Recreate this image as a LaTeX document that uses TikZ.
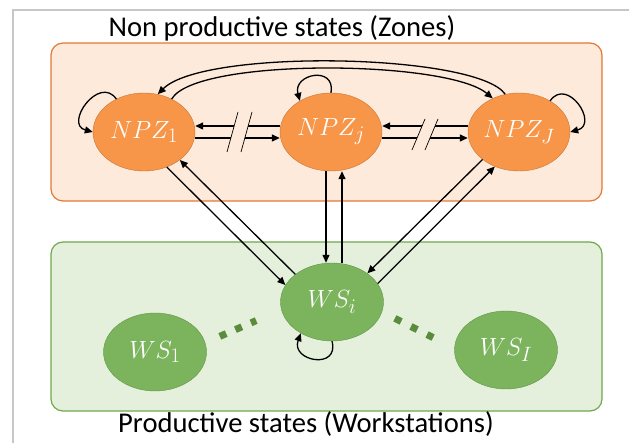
\documentclass[tikz,border=0pt]{standalone}
\usepackage{fontspec}
\setmainfont{Carlito}
\usetikzlibrary{shapes.geometric,arrows.meta}

\definecolor{npzfill}{RGB}{247,150,72}
\definecolor{npzline}{RGB}{200,115,55}
\definecolor{npzbg}{RGB}{253,234,218}
\definecolor{npzframe}{RGB}{228,120,50}
\definecolor{wsfill}{RGB}{124,180,94}
\definecolor{wsline}{RGB}{96,150,70}
\definecolor{wsbg}{RGB}{229,240,220}
\definecolor{wsframe}{RGB}{112,168,75}
\definecolor{wsdots}{RGB}{90,140,60}

\tikzset{
  npz/.style={ellipse, draw=npzline, fill=npzfill, minimum width=102pt, minimum height=78pt, inner sep=0pt, text=white, font=\Huge},
  ws/.style={ellipse, draw=wsline, fill=wsfill, minimum width=103pt, minimum height=78pt, inner sep=0pt, text=white, font=\Huge},
  trans/.style={-{Triangle[length=8pt,width=7pt]}, line width=1.3pt},
  cut/.style={line width=0.7pt}
}

\begin{document}
\begin{tikzpicture}[x=1pt,y=1pt]
  \useasboundingbox (0,0) rectangle (629,443);
  \draw[black!22, line width=1.5pt] (13,0) -- (13,433) -- (629,433);

  \draw[npzframe, fill=npzbg, line width=1.2pt, rounded corners=12pt] (51,242) rectangle (602,400);
  \draw[wsframe, fill=wsbg, line width=1.2pt, rounded corners=12pt] (51,32) rectangle (602,201);

  \node (ttop) at (282,406) [anchor=base, font=\fontsize{28.6}{33}\selectfont]{Non productive states (Zones)};
  \node (tbot) at (306,10) [anchor=base, font=\fontsize{28.6}{33}\selectfont]{Productive states (Workstations)};

  \node (npz1) at (144,311) [npz]{$NPZ_1$};
  \node (npzj) at (331,311) [npz]{$NPZ_j$};
  \node (npzJ) at (519,311) [npz]{$NPZ_J$};
  \node (wsi) at (332,141) [ws]{$WS_i$};
  \node (ws1) at (155,91) [ws]{$WS_1$};
  \node (wsI) at (506,93) [ws]{$WS_I$};

  \draw[wsdots, line width=7pt, dash pattern=on 7pt off 10pt] (219.8,106.6) -- (256.2,122.4);
  \draw[wsdots, line width=7pt, dash pattern=on 7pt off 11pt] (394.9,124.6) -- (433.1,105.4);

  \draw[trans] (npz1.130) to[out=125, in=165, distance=30pt] (npz1.west);
  \draw[trans] (npzj.north) to[out=80, in=105, distance=28pt] (npzj.135);
  \draw[trans] (npzJ.45) to[out=55, in=15, distance=30pt] (npzJ.east);
  \draw[trans] (wsi.south) to[out=-75, in=-110, distance=30pt] (wsi.-135);

  \draw[trans] (npzJ.110) to[out=125, in=45, out distance=50pt, in distance=65pt] (npz1.70);
  \draw[trans] (npz1.50) to[out=60, in=140, out distance=48pt, in distance=60pt] (npzJ.128);

  \draw[trans] ([yshift=6pt]npzj.west) -- ([yshift=6pt]npz1.east);
  \draw[trans] ([yshift=-6pt]npz1.east) -- ([yshift=-6pt]npzj.west);
  \draw[trans] ([yshift=6pt]npzJ.west) -- ([yshift=6pt]npzj.east);
  \draw[trans] ([yshift=-6pt]npzj.east) -- ([yshift=-6pt]npzJ.west);

  \fill[npzbg] (227,291) -- (238,331) -- (252,331) -- (241,291) -- cycle;
  \draw[cut] (227,291) -- (238,331);
  \draw[cut] (241,291) -- (252,331);
  \fill[npzbg] (412,293) -- (425,324) -- (438,324) -- (425,293) -- cycle;
  \draw[cut] (412,293) -- (425,324);
  \draw[cut] (425,293) -- (438,324);

  \draw[trans] (npz1.-57) -- (wsi.160);
  \draw[trans] (wsi.143) -- (npz1.-38);
  \draw[trans] ([xshift=-5pt]npzj.south) -- ([xshift=-6pt]wsi.north);
  \draw[trans] ([xshift=10pt]wsi.north) -- ([xshift=11pt]npzj.south);
  \draw[trans] (npzJ.-143) -- (wsi.39);
  \draw[trans] (wsi.22) -- (npzJ.-125);
\end{tikzpicture}
\end{document}
